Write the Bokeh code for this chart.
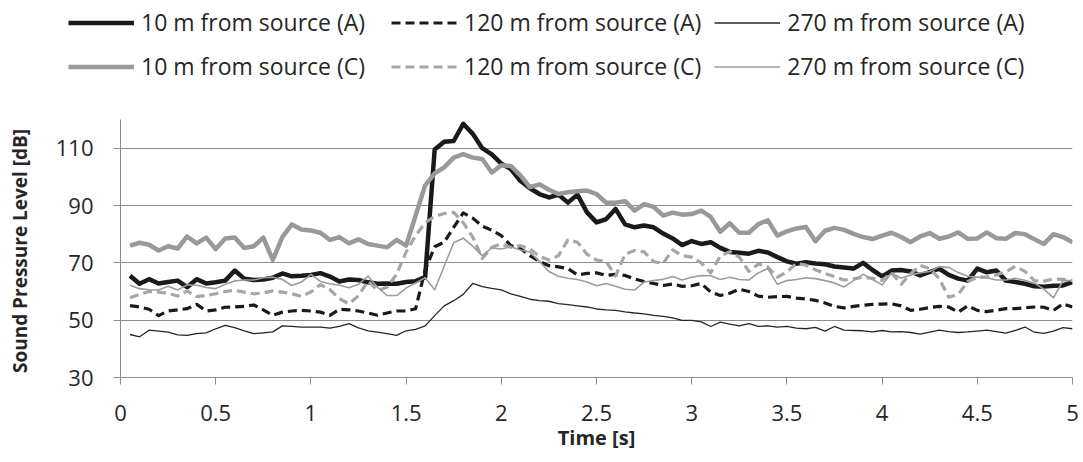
from bokeh.plotting import figure
from bokeh.layouts import column
from bokeh.models import Range1d, FixedTicker, Legend, LegendItem, ColumnDataSource
from bokeh.embed import file_html
from bokeh.resources import INLINE

# ---------------- data ----------------
time_s = [round(0.05 * i, 2) for i in range(1, 101)]

spl_10m_A = [
    65.5, 62.7, 64.3, 62.8, 63.3, 63.8, 61.5, 64.3, 62.8, 63.2,
    63.8, 67.3, 64.5, 64.0, 64.2, 64.8, 66.3, 65.3, 65.5, 65.8,
    66.4, 65.2, 63.5, 64.2, 64.0, 63.2, 62.7, 62.8, 62.7, 63.3,
    63.6, 65.0, 109.5, 112.2, 112.5, 118.5, 115.0, 110.0, 107.8, 104.6,
    102.7, 98.6, 96.0, 94.0, 92.8, 93.8, 91.0, 93.8, 87.6, 84.1,
    85.2, 88.8, 83.4, 82.4, 83.0, 82.4, 80.2, 78.5, 76.2, 77.6,
    76.6, 77.2, 75.2, 73.8, 73.5, 73.2, 74.2, 73.6, 72.0, 70.5,
    69.7, 70.2, 69.8, 69.5, 68.7, 68.4, 68.0, 70.0, 67.5, 65.3,
    67.3, 67.5, 67.0, 65.6, 66.8, 68.0, 65.8, 64.5, 63.8, 68.0,
    66.7, 67.3, 63.8, 63.3, 62.7, 61.8, 61.7, 62.0, 62.1, 63.3,
]
spl_120m_A = [
    55.1, 54.6, 53.8, 51.6, 53.2, 53.6, 54.0, 55.5, 53.2, 53.6,
    54.5, 54.6, 54.8, 55.3, 53.6, 51.7, 52.8, 53.2, 53.4, 53.2,
    52.8, 51.7, 53.8, 53.6, 53.2, 52.5, 51.7, 52.5, 53.2, 53.2,
    54.0, 67.5, 75.6, 77.2, 82.4, 87.4, 85.6, 82.8, 81.4, 79.5,
    76.0, 75.0, 72.5, 70.5, 69.0, 68.6, 68.0, 65.8, 66.3, 66.5,
    65.6, 66.0, 65.6, 64.4, 63.5, 62.8, 62.1, 62.6, 61.8, 62.0,
    62.8, 59.8, 58.6, 59.4, 60.8, 60.0, 58.4, 58.0, 58.2, 58.3,
    57.7, 57.4, 56.9, 56.0, 54.8, 54.3, 54.8, 55.2, 55.5, 55.6,
    55.7, 55.0, 53.4, 53.8, 54.4, 54.8, 54.6, 52.8, 55.0, 53.4,
    53.0, 53.5, 54.0, 54.0, 54.3, 54.6, 54.5, 53.4, 55.7, 54.6,
]
spl_270m_A = [
    45.0, 44.2, 46.5, 46.2, 45.8, 44.9, 44.7, 45.3, 45.6, 47.0,
    48.2, 47.4, 46.3, 45.3, 45.6, 45.9, 48.0, 47.8, 47.6, 47.6,
    47.6, 47.2, 47.8, 48.8, 47.3, 46.3, 45.8, 45.3, 44.7, 46.3,
    46.8, 48.0, 51.6, 55.0, 56.8, 59.0, 62.8, 61.7, 61.1, 60.6,
    59.2, 58.3, 57.3, 56.8, 56.6, 55.8, 55.4, 55.0, 54.6, 53.9,
    53.6, 53.4, 52.9, 52.5, 52.2, 51.7, 51.3, 50.8, 49.9, 49.9,
    49.4, 47.8, 49.3, 48.6, 48.0, 48.8, 47.8, 48.0, 47.6, 47.8,
    47.2, 47.0, 47.5, 46.2, 47.8, 46.5, 46.4, 46.3, 45.9, 46.4,
    45.9, 46.0, 45.7, 45.1, 45.8, 46.5, 46.0, 45.7, 45.9, 46.2,
    46.5, 46.0, 45.5, 46.4, 47.6, 45.8, 45.4, 46.2, 47.4, 47.0,
]
spl_10m_C = [
    76.0, 77.0, 76.3, 74.3, 75.8, 75.0, 79.2, 76.8, 78.8, 74.8,
    78.5, 78.8, 75.2, 75.8, 78.8, 71.0, 79.0, 83.4, 81.6, 81.3,
    80.5, 78.0, 79.0, 76.8, 78.2, 76.6, 76.0, 75.4, 78.0, 76.0,
    86.5, 97.0, 101.2, 103.3, 106.7, 107.9, 106.7, 106.2, 101.5, 104.0,
    103.8, 100.5, 96.4, 97.4, 95.5, 94.0, 94.6, 95.0, 95.2, 94.0,
    91.0, 91.0, 91.5, 88.2, 90.5, 89.5, 86.5, 87.5, 86.8, 87.0,
    88.2, 86.0, 80.8, 83.8, 80.5, 80.5, 83.5, 84.8, 79.5, 81.0,
    82.0, 82.5, 77.5, 81.2, 82.2, 81.5, 80.1, 79.0, 78.3, 79.5,
    80.5, 79.0, 77.2, 79.2, 80.4, 78.4, 79.2, 80.6, 78.4, 78.5,
    80.6, 78.6, 78.4, 80.4, 80.0, 78.2, 76.6, 80.0, 79.0, 77.2,
]
spl_120m_C = [
    57.8, 59.0, 60.0, 59.8, 59.4, 58.4, 60.2, 58.2, 58.6, 59.2,
    60.0, 60.4, 59.8, 59.2, 59.5, 60.2, 59.8, 59.2, 58.3, 59.8,
    62.4, 60.6, 57.5, 55.7, 58.5, 63.6, 60.4, 61.5, 66.0, 73.8,
    79.5, 84.0, 86.2, 87.2, 87.6, 84.0, 79.0, 71.5, 75.4, 76.6,
    75.4, 76.0, 74.8, 72.3, 71.0, 72.5, 78.0, 77.2, 73.0, 71.0,
    70.5, 65.4, 73.0, 74.3, 73.8, 70.4, 69.8, 74.5, 72.5, 72.0,
    70.0, 66.5, 72.4, 73.9, 72.0, 67.0, 69.6, 68.5, 65.0, 66.8,
    69.8, 69.2, 67.6, 66.3, 65.2, 64.0, 64.4, 65.0, 64.6, 63.9,
    66.5, 62.5, 66.2, 69.1, 68.0, 64.5, 58.0, 59.0, 63.5, 65.0,
    65.0, 65.8, 66.9, 68.8, 67.0, 63.8, 63.6, 64.4, 64.2, 63.8,
]
spl_270m_C = [
    62.2, 61.0, 60.6, 60.5, 61.8, 60.5, 62.3, 62.2, 61.4, 61.0,
    62.5, 63.7, 64.0, 64.0, 64.8, 65.0, 64.2, 62.1, 63.3, 66.0,
    63.5, 62.7, 62.2, 61.3, 62.5, 65.4, 61.5, 58.6, 58.6, 61.2,
    63.0, 64.8, 60.6, 68.8, 77.0, 78.6, 75.8, 72.5, 75.2, 74.8,
    75.6, 74.5, 73.8, 70.5, 67.0, 65.3, 64.6, 64.2, 63.3, 62.0,
    62.8, 61.8, 60.8, 60.5, 63.3, 63.8, 64.3, 65.2, 64.0, 65.0,
    65.6, 65.5, 64.2, 65.0, 64.2, 64.0, 66.5, 68.0, 62.5, 63.8,
    64.2, 64.8, 64.5, 63.8, 63.0, 61.6, 63.8, 66.0, 64.2, 62.3,
    66.5, 64.6, 65.8, 66.5, 67.0, 68.6, 68.4, 66.6, 65.3, 65.0,
    64.8, 64.0, 64.0, 64.6, 63.9, 62.9, 60.8, 57.8, 63.8, 63.8,
]

series_labels = [
    "10 m from source (A)", "120 m from source (A)", "270 m from source (A)",
    "10 m from source (C)", "120 m from source (C)", "270 m from source (C)",
]
x_ticks = [0, 0.5, 1, 1.5, 2, 2.5, 3, 3.5, 4, 4.5, 5]
x_tick_labels = ["0", "0.5", "1", "1.5", "2", "2.5", "3", "3.5", "4", "4.5", "5"]
y_ticks = [30, 50, 70, 90, 110]

FONT = "Open Sans"
src = ColumnDataSource(dict(
    t=time_s, a10=spl_10m_A, a120=spl_120m_A, a270=spl_270m_A,
    c10=spl_10m_C, c120=spl_120m_C, c270=spl_270m_C,
))
styles = [
    ("a10", "#1a1a1a", 4.5, "solid"),
    ("a120", "#1a1a1a", 3.2, "9 5"),
    ("a270", "#262626", 1.3, "solid"),
    ("c10", "#999999", 4.5, "solid"),
    ("c120", "#a6a6a6", 3.2, "9 5"),
    ("c270", "#9c9c9c", 1.6, "solid"),
]

W, H = 1083, 462

# ---------------- legend strip (separate figure on top) ----------------
LEG_H = 100
lg = figure(
    width=W, height=LEG_H,
    x_range=Range1d(0, 1), y_range=Range1d(0, 1),
    output_backend="svg", toolbar_location=None,
    min_border_left=0, min_border_right=0, min_border_top=0, min_border_bottom=0,
)
lg.frame_align = False
lg.axis.visible = False
lg.grid.visible = False
lg.outline_line_color = None
lg.background_fill_color = "white"
lg.border_fill_color = "white"

lg_renderers = []
for col, color, w, dash in styles:
    # data lies outside this strip's y range, so only the legend samples show
    r = lg.line("t", col, source=src, line_color=color, line_width=w,
                line_dash=dash, line_join="round")
    lg_renderers.append(r)

for row, vy in ((0, 62), (1, 18)):
    items = [LegendItem(label=series_labels[3 * row + k], renderers=[lg_renderers[3 * row + k]])
             for k in range(3)]
    leg = Legend(
        items=items, orientation="horizontal",
        location=(68, vy),
        glyph_width=66, glyph_height=31, label_height=31, label_width=237,
        label_standoff=7, spacing=13, padding=0, margin=0,
        label_text_font=FONT, label_text_font_size="23px", label_text_color="#262626",
        border_line_color=None, background_fill_alpha=0,
    )
    lg.add_layout(leg, "center")

# ---------------- main plot ----------------
p = figure(
    width=W, height=H - LEG_H,
    x_range=Range1d(0, 5), y_range=Range1d(30, 120),
    output_backend="svg", toolbar_location=None,
    min_border_left=120, min_border_right=11,
    min_border_top=19, min_border_bottom=85,
)
p.frame_align = False
p.outline_line_color = None
p.background_fill_color = "white"
p.border_fill_color = "white"

axis_gray = "#8c8c8c"
for ax in (p.xaxis[0], p.yaxis[0]):
    ax.axis_line_color = axis_gray
    ax.major_tick_line_color = axis_gray
    ax.major_tick_in = 0
    ax.major_tick_out = 7
    ax.minor_tick_line_color = None
    ax.major_label_text_font = FONT
    ax.major_label_text_font_size = "22px"
    ax.major_label_text_color = "#262626"
    ax.axis_label_text_font = FONT
    ax.axis_label_text_font_style = "bold"
    ax.axis_label_text_color = "#262626"

p.xaxis.ticker = FixedTicker(ticks=x_ticks)
p.xaxis.major_label_overrides = {t: l for t, l in zip(x_ticks, x_tick_labels)}
p.xaxis.axis_label = "Time [s]"
p.xaxis.axis_label_text_font_size = "20px"
p.xaxis.major_label_standoff = 20
p.xaxis.axis_label_standoff = 0

p.yaxis.ticker = FixedTicker(ticks=y_ticks)
p.yaxis.axis_label = "Sound Pressure Level  [dB]"
p.yaxis.axis_label_text_font_size = "19px"
p.yaxis.major_label_standoff = 20
p.yaxis.axis_label_standoff = 20

p.xgrid.grid_line_color = None
p.ygrid.ticker = FixedTicker(ticks=y_ticks)
p.ygrid.grid_line_color = axis_gray
p.ygrid.grid_line_width = 1

for col, color, w, dash in styles:
    p.line("t", col, source=src, line_color=color, line_width=w,
           line_dash=dash, line_join="round")

layout = column(lg, p, spacing=0)
open("out.html", "w").write(file_html(layout, INLINE))
